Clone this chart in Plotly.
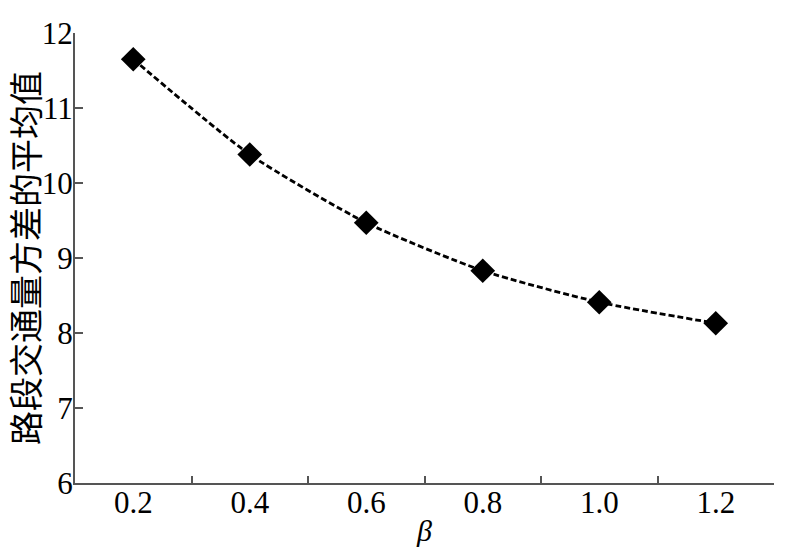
import plotly.graph_objects as go

beta = [0.2, 0.4, 0.6, 0.8, 1.0, 1.2]
mean_var = [11.65, 10.38, 9.47, 8.83, 8.41, 8.13]
x_labels = ["0.2", "0.4", "0.6", "0.8", "1.0", "1.2"]
x_tick_marks = [0.3, 0.5, 0.7, 0.9, 1.1, 1.3]
y_ticks = [6, 7, 8, 9, 10, 11, 12]

serif = "Liberation Serif"
axis_col = "#555555"
tick_font = dict(family=serif, size=31, color="black")

fig = go.Figure()
fig.add_trace(go.Scatter(
    x=beta, y=mean_var, mode="lines+markers",
    line=dict(color="black", width=2.8, dash="6px,3px", shape="spline", smoothing=0.6),
    marker=dict(symbol="diamond", size=19, color="black"),
    showlegend=False,
))
# invisible trace to carry the label axis
fig.add_trace(go.Scatter(x=beta, y=mean_var, xaxis="x2", mode="markers",
                         marker=dict(opacity=0), hoverinfo="skip", showlegend=False))

fig.update_layout(
    width=800, height=552,
    margin=dict(l=75, r=26, t=33, b=69),
    plot_bgcolor="white", paper_bgcolor="white",
    font=dict(family=serif, size=26, color="black"),
    xaxis=dict(
        range=[0.1, 1.3], tickvals=x_tick_marks, showticklabels=False,
        ticks="inside", ticklen=7, tickwidth=2, tickcolor=axis_col,
        showline=True, linecolor=axis_col, linewidth=2,
        showgrid=False, zeroline=False, automargin=False,
    ),
    xaxis2=dict(
        range=[0.1, 1.3], overlaying="x", side="bottom", anchor="y",
        tickvals=beta, ticktext=x_labels, ticks="", ticklabelstandoff=-2,
        tickfont=tick_font, automargin=False,
        showline=False, showgrid=False, zeroline=False,
        title=dict(text="<i>β</i>", font=dict(family=serif, size=30), standoff=0),
    ),
    yaxis=dict(
        range=[6, 12], tickvals=y_ticks,
        ticks="inside", ticklen=8, tickwidth=2, tickcolor=axis_col,
        showline=True, linecolor=axis_col, linewidth=2,
        showgrid=False, zeroline=False, automargin=False,
        tickfont=tick_font, ticklabelstandoff=-6,
        title=dict(text="路段交通量方差的平均值",
                   font=dict(family="Noto Sans CJK SC", size=34), standoff=0),
    ),
)

fig.write_html("out.html", config={"displayModeBar": False},
               post_script="document.body.style.margin='0';")
